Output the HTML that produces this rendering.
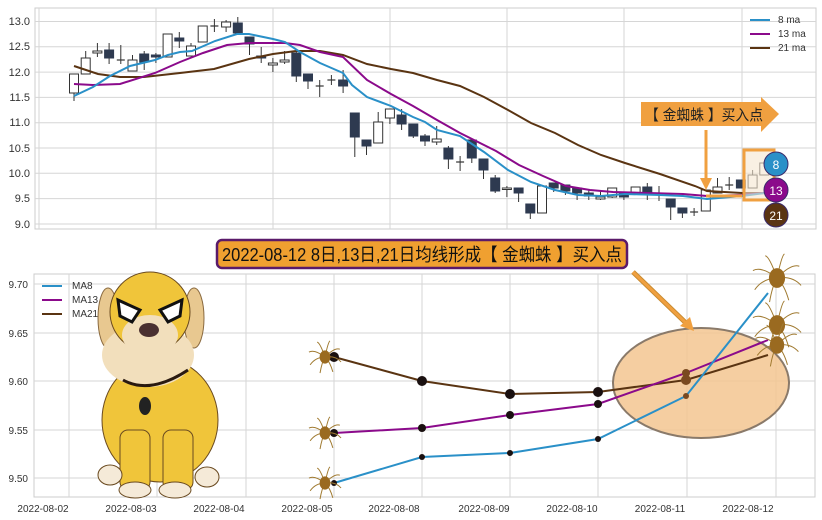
<!DOCTYPE html>
<html><head><meta charset="utf-8"><style>
html,body{margin:0;padding:0;background:#fff;width:822px;height:520px;overflow:hidden}
svg{display:block;font-family:"Liberation Sans","Noto Sans CJK SC",sans-serif}
</style></head><body>
<svg id="s" width="822" height="520" viewBox="0 0 822 520" xmlns="http://www.w3.org/2000/svg">
<rect width="822" height="520" fill="#fff"/>
<rect x="35" y="8" width="781" height="221" fill="#fff" stroke="#ccc" stroke-width="1"/>
<g id="tg" stroke="#d6d6d6" stroke-width="1"></g>
<g font-size="11" fill="#333" text-anchor="end">
<text x="30" y="25">13.0</text><text x="30" y="50">12.5</text><text x="30" y="76">12.0</text>
<text x="30" y="101">11.5</text><text x="30" y="126">11.0</text><text x="30" y="152">10.5</text>
<text x="30" y="177">10.0</text><text x="30" y="202">9.5</text><text x="30" y="228">9.0</text>
</g>
<g id="candles"></g>
<polyline fill="none" stroke="#5a3412" stroke-width="2" points="74,66 98,74 120,77 144,77 180,73 214,69 249,59 273,54 296,51 320,51 343,55 367,64 391,69 413,73 437,80 460,86 484,97 508,110 531,123 555,133 578,145 601,155 625,163 660,174 695,186 707,191 742,193 765,193"/>
<polyline fill="none" stroke="#8b0a8b" stroke-width="2" points="74,84 93,85 120,84 155,73 180,62 203,53 227,45 249,43 285,43 300,45 320,52 343,57 367,80 391,94 413,106 437,120 460,133 484,145 496,151 519,165 543,176 566,186 590,190 613,192 648,193 683,194 707,196 742,195 765,193"/>
<polyline fill="none" stroke="#2a90c8" stroke-width="2" points="74,96 93,87 110,76 130,66 155,60 168,55 180,52 192,51 215,41 237,34 249,34 273,39 285,42 300,52 320,63 343,73 352,85 367,97 391,106 413,117 425,122 437,130 460,136 484,152 508,170 531,182 555,190 578,195 601,196 625,194 660,195 683,196 707,199 742,196 765,193"/>
<g font-size="10" fill="#333">
<line x1="750" y1="20" x2="770" y2="20" stroke="#2a90c8" stroke-width="2"/><text x="778" y="23">8 ma</text>
<line x1="750" y1="34" x2="770" y2="34" stroke="#8b0a8b" stroke-width="2"/><text x="778" y="37">13 ma</text>
<line x1="750" y1="48" x2="770" y2="48" stroke="#5a3412" stroke-width="2"/><text x="778" y="51">21 ma</text>
</g>
<polygon points="641,102 761,102 761,97 779,114 761,132 761,126 641,126" fill="#f0a040"/>
<text x="645" y="120" font-size="15" fill="#222" textLength="118" lengthAdjust="spacingAndGlyphs">【 金蜘蛛 】买入点</text>
<line x1="706" y1="130" x2="706" y2="180" stroke="#f0a040" stroke-width="3"/>
<polygon points="700,178 712,178 706,190" fill="#f0a040"/>
<polyline points="706,196 742,196" stroke="#f0a040" stroke-width="3" fill="none"/>
<rect x="744" y="150" width="30" height="50" fill="#f5e6d0" fill-opacity="0.6" stroke="#f0a040" stroke-width="3"/>
<circle cx="776" cy="164" r="12" fill="#2a90c8" stroke="#3a2a6a" stroke-width="1"/><text x="776" y="169" font-size="12" fill="#fff" text-anchor="middle">8</text>
<circle cx="776" cy="190" r="12" fill="#8b0a8b" stroke="#3a2a6a" stroke-width="1"/><text x="776" y="195" font-size="12" fill="#fff" text-anchor="middle">13</text>
<circle cx="776" cy="215" r="12" fill="#5a3412" stroke="#3a2a6a" stroke-width="1"/><text x="776" y="220" font-size="12" fill="#fff" text-anchor="middle">21</text>

<rect x="34" y="274" width="781" height="223" fill="#fff" stroke="#ccc" stroke-width="1"/>
<g stroke="#d6d6d6" stroke-width="1">
<line x1="34" y1="284" x2="815" y2="284"/><line x1="34" y1="333" x2="815" y2="333"/>
<line x1="34" y1="381" x2="815" y2="381"/><line x1="34" y1="430" x2="815" y2="430"/>
<line x1="34" y1="478" x2="815" y2="478"/>
<line x1="69" y1="274" x2="69" y2="497"/><line x1="157" y1="274" x2="157" y2="497"/>
<line x1="246" y1="274" x2="246" y2="497"/><line x1="334" y1="274" x2="334" y2="497"/>
<line x1="422" y1="274" x2="422" y2="497"/><line x1="510" y1="274" x2="510" y2="497"/>
<line x1="598" y1="274" x2="598" y2="497"/><line x1="687" y1="274" x2="687" y2="497"/>
<line x1="776" y1="274" x2="776" y2="497"/>
</g>
<g font-size="10" fill="#333" text-anchor="end">
<text x="28" y="288">9.70</text><text x="28" y="337">9.65</text><text x="28" y="385">9.60</text>
<text x="28" y="434">9.55</text><text x="28" y="482">9.50</text>
</g>
<g font-size="10" fill="#333" text-anchor="middle">
<text x="43" y="512">2022-08-02</text><text x="131" y="512">2022-08-03</text><text x="219" y="512">2022-08-04</text>
<text x="307" y="512">2022-08-05</text><text x="394" y="512">2022-08-08</text><text x="484" y="512">2022-08-09</text>
<text x="572" y="512">2022-08-10</text><text x="660" y="512">2022-08-11</text><text x="748" y="512">2022-08-12</text>
</g>
<g font-size="10" fill="#333">
<line x1="42" y1="286" x2="62" y2="286" stroke="#2a90c8" stroke-width="2"/><text x="72" y="289">MA8</text>
<line x1="42" y1="300" x2="62" y2="300" stroke="#8b0a8b" stroke-width="2"/><text x="72" y="303">MA13</text>
<line x1="42" y1="314" x2="62" y2="314" stroke="#5a3412" stroke-width="2"/><text x="72" y="317">MA21</text>
</g>
<ellipse cx="701" cy="383" rx="88" ry="55" fill="#f3c590" fill-opacity="0.85" stroke="#8a7a6a" stroke-width="2"/>
<polyline fill="none" stroke="#5a3412" stroke-width="2" points="334,357 422,381 510,394 598,392 686,380 768,355"/>
<polyline fill="none" stroke="#8b0a8b" stroke-width="2" points="334,433 422,428 510,415 598,404 686,373 768,340"/>
<polyline fill="none" stroke="#2a90c8" stroke-width="2" points="334,483 422,457 510,453 598,439 686,396 768,293"/>
<g fill="#1a1010">
<circle cx="334" cy="357" r="5"/><circle cx="422" cy="381" r="5"/><circle cx="510" cy="394" r="5"/><circle cx="598" cy="392" r="5"/><circle cx="686" cy="380" r="5" fill="#7a4a20"/>
<circle cx="334" cy="433" r="4"/><circle cx="422" cy="428" r="4"/><circle cx="510" cy="415" r="4"/><circle cx="598" cy="404" r="4"/><circle cx="686" cy="373" r="4" fill="#7a4a20"/>
<circle cx="334" cy="483" r="3"/><circle cx="422" cy="457" r="3"/><circle cx="510" cy="453" r="3"/><circle cx="598" cy="439" r="3"/><circle cx="686" cy="396" r="3" fill="#7a4a20"/>
</g>
<g id="spiders"></g>
<line x1="633" y1="272" x2="688" y2="325" stroke="#c88a30" stroke-width="5"/>
<line x1="633" y1="272" x2="688" y2="325" stroke="#f0a040" stroke-width="3"/>
<polygon points="680,326 694,331 690,317" fill="#f0a040"/>
<rect x="217" y="240" width="410" height="28" rx="5" fill="#f0a030" stroke="#5a1a6a" stroke-width="2.5"/>
<text x="222" y="261" font-size="18" fill="#111" textLength="400" lengthAdjust="spacingAndGlyphs">2022-08-12 8日,13日,21日均线形成【 金蜘蛛 】买入点</text>
<g>
<ellipse cx="108" cy="318" rx="10" ry="30" fill="#e8c890" stroke="#8a6a40"/>
<ellipse cx="194" cy="318" rx="10" ry="30" fill="#e8c890" stroke="#8a6a40"/>
<ellipse cx="160" cy="420" rx="58" ry="62" fill="#f0c53a" stroke="#6a4a20"/>
<rect x="120" y="430" width="30" height="60" rx="8" fill="#f0c53a" stroke="#6a4a20"/>
<rect x="163" y="430" width="30" height="60" rx="8" fill="#f0c53a" stroke="#6a4a20"/>
<ellipse cx="148" cy="355" rx="46" ry="32" fill="#f2dfbc"/>
<ellipse cx="150" cy="312" rx="40" ry="40" fill="#f0c53a" stroke="#6a4a20"/>
<ellipse cx="150" cy="335" rx="28" ry="20" fill="#f2dfbc"/>
<polygon points="118,300 140,310 132,322 120,316" fill="#fff" stroke="#111" stroke-width="3"/>
<polygon points="182,300 160,310 168,322 180,316" fill="#fff" stroke="#111" stroke-width="3"/>
<ellipse cx="149" cy="330" rx="10" ry="7" fill="#4a3030"/>
<path d="M123 380 Q150 395 188 370" stroke="#2a1a10" stroke-width="3" fill="none"/>
<ellipse cx="145" cy="406" rx="6" ry="9" fill="#222"/>
<ellipse cx="135" cy="490" rx="16" ry="8" fill="#f5ead8" stroke="#6a4a20"/>
<ellipse cx="175" cy="490" rx="16" ry="8" fill="#f5ead8" stroke="#6a4a20"/>
<ellipse cx="110" cy="475" rx="12" ry="10" fill="#f5ead8" stroke="#6a4a20"/>
<ellipse cx="207" cy="477" rx="12" ry="10" fill="#f5ead8" stroke="#6a4a20"/>
</g>
</svg>
<script>
var NS="http://www.w3.org/2000/svg";
function el(p,t,a){var e=document.createElementNS(NS,t);for(var k in a)e.setAttribute(k,a[k]);p.appendChild(e);return e;}
var tg=document.getElementById("tg");
[21.5,46.8,72.1,97.4,122.7,148,173.3,198.6,224].forEach(function(y){el(tg,"line",{x1:35,y1:y,x2:816,y2:y});});
[39,156,273,390,507,624,742].forEach(function(x){el(tg,"line",{x1:x,y1:8,x2:x,y2:229});});
var C=[[74,93,74,101,0],[58,74,51,74,0],[51,53,43,57,0],[50,58,43,64,1],[60,60,45,64,2],[60,71,55,71,0],[54,62,51,70,1],[55,57,53,63,1],[34,57,34,57,0],[38,41,32,48,1],
[46,56,43,56,0],[26,42,26,42,0],[26,26,19,32,2],[22,27,20,32,0],[23,33,17,33,1],[37,44,37,55,1],[56,58,47,63,1],[63,65,58,72,0],[60,62,51,64,0],[53,76,51,82,1],
[74,81,74,89,1],[86,86,80,97,2],[80,80,75,85,2],[80,86,70,93,1],[113,137,113,157,1],[140,146,140,155,1],[122,143,112,143,0],[109,118,109,124,0],[115,124,109,130,1],[124,136,124,138,1],
[136,141,134,146,1],[139,142,126,145,0],[148,159,146,169,1],[162,162,156,171,2],[140,158,140,163,1],[159,170,159,179,1],[178,191,175,193,1],[188,189,186,197,0],[188,193,188,202,1],[204,213,204,219,1],
[186,213,186,213,0],[183,188,183,192,1],[185,191,185,195,1],[188,193,188,200,1],[193,196,190,200,1],[197,199,190,200,0],[188,197,188,198,0],[192,197,192,200,1],[187,194,187,194,0],[187,194,183,200,1],
[194,194,186,201,2],[199,207,199,220,1],[208,213,208,218,1],[212,212,208,216,2],[190,211,190,211,0],[187,193,178,193,0],[185,185,177,190,2],[180,188,180,188,1],[175,188,170,188,0],[163,175,163,175,0]];
var cg=document.getElementById("candles");
C.forEach(function(c,i){var x=74+i*11.7;
el(cg,"line",{x1:x,y1:c[2],x2:x,y2:c[3],stroke:"#333","stroke-width":1});
if(c[4]==2){el(cg,"line",{x1:x-4,y1:c[0],x2:x+4,y2:c[0],stroke:"#333","stroke-width":1.2});}
else el(cg,"rect",{x:x-4.5,y:c[0],width:9,height:Math.max(c[1]-c[0],1.5),fill:c[4]?"#2e3a50":"#fff",stroke:c[4]?"#2e3a50":"#333","stroke-width":1});
});
var sg=document.getElementById("spiders");
function spider(cx,cy,r){for(var k=0;k<8;k++){var a=k*Math.PI/4+0.3;
el(sg,"path",{d:"M"+cx+" "+cy+" Q"+(cx+Math.cos(a)*r*0.9)+" "+(cy+Math.sin(a)*r*0.9-r*0.4)+" "+(cx+Math.cos(a)*r*1.4)+" "+(cy+Math.sin(a)*r*1.4),stroke:"#a07a30",fill:"none","stroke-width":1});}
el(sg,"ellipse",{cx:cx,cy:cy,rx:r*0.45,ry:r*0.55,fill:"#9a6a20"});}
spider(325,357,12);spider(325,433,12);spider(325,483,12);
spider(777,278,18);spider(777,325,18);spider(777,345,16);
</script>
</body></html>
